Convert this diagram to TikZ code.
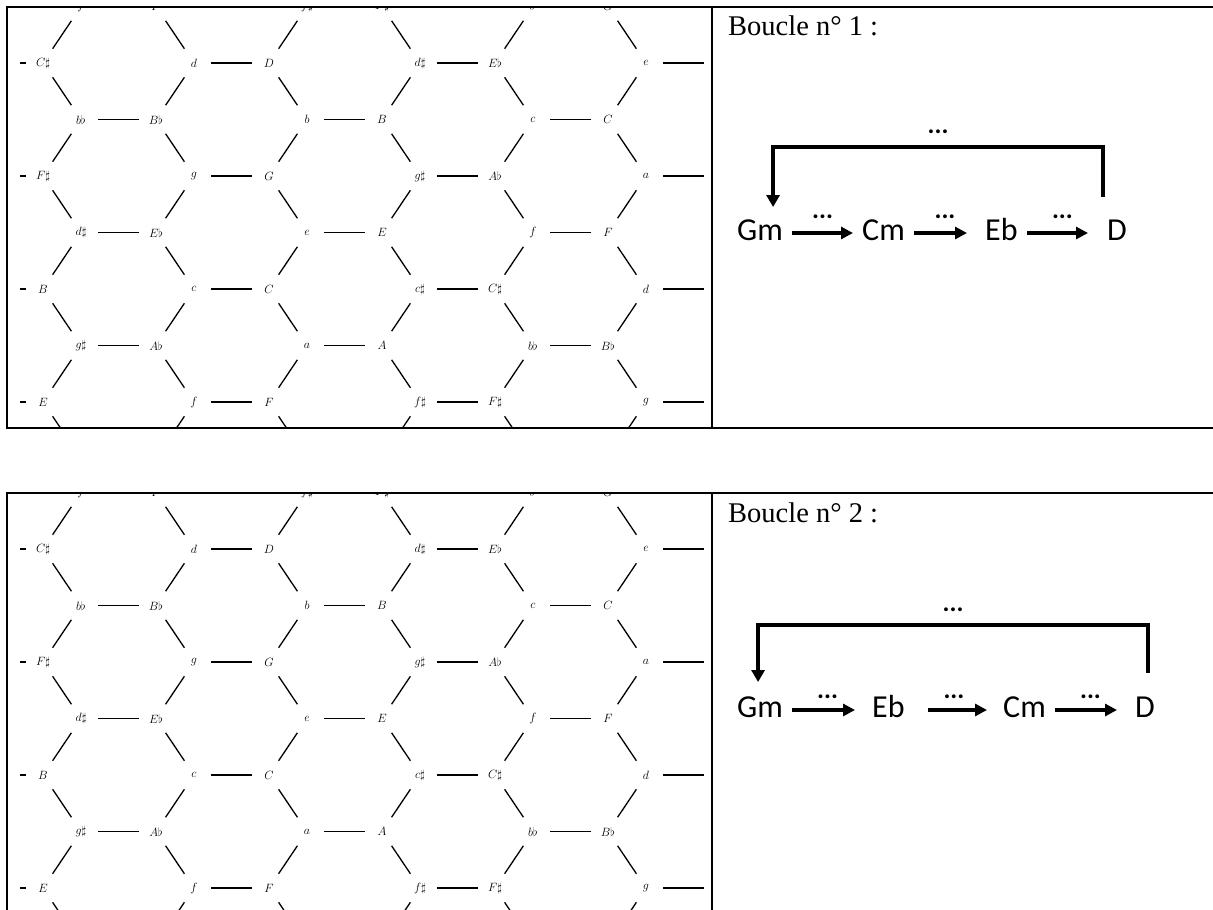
\documentclass[tikz,border=0pt]{standalone}
\usepackage{fontspec}
\usepackage{amssymb}
\usetikzlibrary{arrows.meta}
\newfontfamily\chordfont{Carlito}
\newfontfamily\titlefont{Liberation Serif}

\begin{document}
\begin{tikzpicture}[
	x=1pt,y=-1pt,
	nlab/.style={circle,inner sep=0pt,minimum size=34pt,font=\fontsize{12}{14}\selectfont},
	tedge/.style={draw=black,line width=1.3pt},
	tabline/.style={line width=2.4pt},
	boucle/.style={anchor=base west,inner sep=0pt,font=\titlefont\fontsize{28.5}{32}\selectfont},
	chord/.style={anchor=base west,inner xsep=9pt,inner ysep=4pt,font=\chordfont\fontsize{32}{38}\selectfont},
	harrow/.style={line width=3.6pt,-{Triangle[length=12pt,width=12pt]}},
	looparrow/.style={line width=4pt,-{Triangle[length=12pt,width=13pt]}},
	elli/.style={inner sep=0pt,font=\chordfont\bfseries\fontsize{26}{26}\selectfont,above=#1},
	elli/.default=13pt
	]
	\useasboundingbox (0,0) rectangle (1213,910);
	% table rules
	\draw[tabline] (6,7) -- (1213,7);
	\draw[tabline] (6,428) -- (1213,428);
	\draw[tabline] (7,7) -- (7,428);
	\draw[tabline] (712,7) -- (712,428);
	\draw[tabline] (6,493) -- (1213,493);
	\draw[tabline] (7,493) -- (7,910);
	\draw[tabline] (712,493) -- (712,910);
	% tonnetz, one per panel
	\foreach \p/\dy/\yb in {1/0/427,2/486/424}{
		\begin{scope}[yshift=-\dy pt]
			\clip (20,8) rectangle (706,\yb);
			\foreach \r/\lst in {0/{f/F,f\sharp/F\sharp,g/G},2/{b\flat/B\flat,b/B,c/C},4/{d\sharp/E\flat,e/E,f/F},6/{g\sharp/A\flat,a/A,b\flat/B\flat},8/{{}/{},{}/{},{}/{}}}{
				\foreach \m/\M [count=\k from 0] in \lst{
					\node[nlab] (m\p\r\k) at ({81+226*\k},{6.5+56.5*\r}) {$\m$};
					\node[nlab] (M\p\r\k) at ({156+226*\k},{6.5+56.5*\r}) {$\M$};
				}
			}
			\foreach \r/\lst in {1/{{}/C\sharp,d/D,d\sharp/E\flat,e/{}},3/{{}/F\sharp,g/G,g\sharp/A\flat,a/{}},5/{{}/B,c/C,c\sharp/C\sharp,d/{}},7/{{}/E,f/F,f\sharp/F\sharp,g/{}}}{
				\foreach \m/\M [count=\k from 0] in \lst{
					\node[nlab] (m\p\r\k) at ({-32+226*\k},{6.5+56.5*\r}) {$\m$};
					\node[nlab] (M\p\r\k) at ({43+226*\k},{6.5+56.5*\r}) {$\M$};
				}
			}
			\foreach \r in {0,2,4,6,8}{
				\foreach \k in {0,1,2}{
					\draw[tedge] (m\p\r\k) -- (M\p\r\k);
					\ifnum\r>0 \pgfmathtruncatemacro\ru{\r-1}\draw[tedge] (m\p\r\k) -- (M\p\ru\k);\fi
					\ifnum\r<8 \pgfmathtruncatemacro\rd{\r+1}\draw[tedge] (m\p\r\k) -- (M\p\rd\k);\fi
				}
			}
			\foreach \r in {1,3,5,7}{
				\foreach \k in {0,...,3}{
					\draw[tedge] (m\p\r\k) -- (M\p\r\k);
					\ifnum\k>0
						\pgfmathtruncatemacro\kl{\k-1}\pgfmathtruncatemacro\ru{\r-1}\pgfmathtruncatemacro\rd{\r+1}
						\draw[tedge] (m\p\r\k) -- (M\p\ru\kl);
						\draw[tedge] (m\p\r\k) -- (M\p\rd\kl);
					\fi
				}
			}
		\end{scope}
	}
	% loop 1
	\node[boucle] (b1) at (728,35) {Boucle n° 1 :};
	\node[chord] (g1) at (728,240) {Gm};
	\node[chord] (c1) at (853,240) {Cm};
	\node[chord] (e1) at (976,240) {Eb};
	\node[chord] (d1) at (1098,240) {D};
	\draw[harrow] ([yshift=7pt]g1.base east) -- node[elli]{...} ([yshift=7pt]c1.base west);
	\draw[harrow,shorten >=9pt] ([yshift=7pt]c1.base east) -- node[elli]{...} ([yshift=7pt]e1.base west);
	\draw[harrow,shorten >=10pt] ([yshift=7pt]e1.base east) -- node[elli]{...} ([yshift=7pt]d1.base west);
	\draw[looparrow] ([xshift=-14pt,yshift=18.5pt]d1.north) -- ++(0,-50) -| node[elli=11pt,pos=0.25]{...} ([xshift=13pt,yshift=8pt]g1.north);
	% loop 2
	\node[boucle] (b2) at (728,522) {Boucle n° 2 :};
	\node[chord] (g2) at (728,717) {Gm};
	\node[chord] (e2) at (863,717) {Eb};
	\node[chord] (c2) at (994,717) {Cm};
	\node[chord] (d2) at (1126,717) {D};
	\draw[harrow,shorten >=8pt] ([yshift=7pt]g2.base east) -- node[elli=10pt]{...} ([yshift=7pt]e2.base west);
	\draw[harrow,shorten <=14pt,shorten >=7pt] ([yshift=7pt]e2.base east) -- node[elli=10pt]{...} ([yshift=7pt]c2.base west);
	\draw[harrow,shorten >=9pt] ([yshift=7pt]c2.base east) -- node[elli=10pt]{...} ([yshift=7pt]d2.base west);
	\draw[looparrow] ([xshift=3pt,yshift=19.5pt]d2.north) -- ++(0,-48) -| node[elli=11pt,pos=0.25]{...} ([xshift=-2pt,yshift=10pt]g2.north);
\end{tikzpicture}
\end{document}
